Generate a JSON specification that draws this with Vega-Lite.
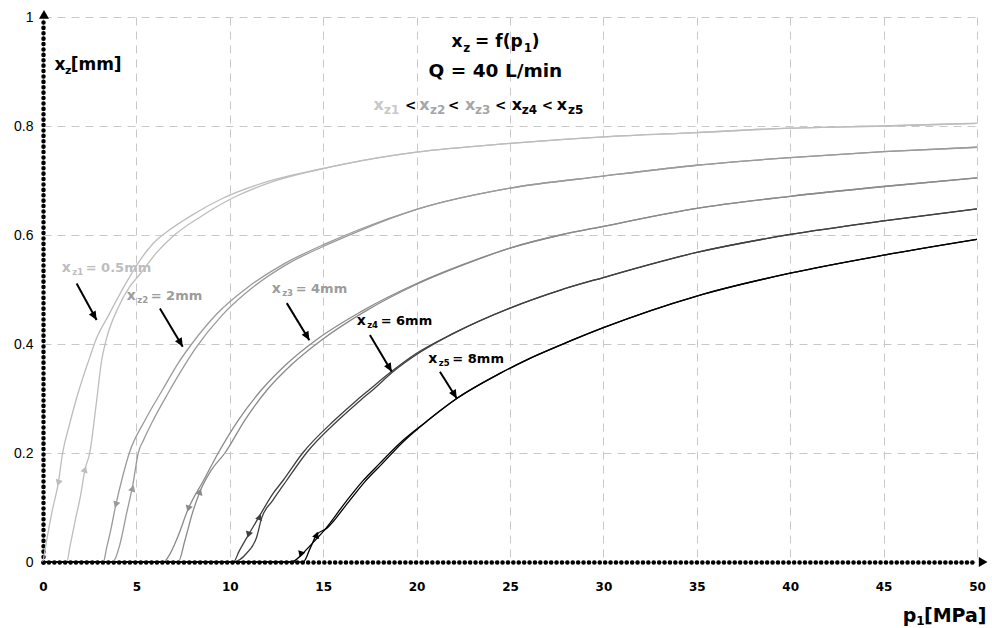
{
  "$schema": "https://vega.github.io/schema/vega-lite/v6.json",
  "width": 934,
  "height": 545,
  "autosize": {"type": "none"},
  "padding": {"left": 43, "top": 17, "right": 15, "bottom": 66},
  "background": "white",
  "config": {
    "view": {"stroke": null},
    "axis": {
      "grid": true,
      "gridColor": "#c8c8c8",
      "gridDash": [8, 6],
      "gridWidth": 1,
      "domainColor": "#000000",
      "domainWidth": 4.5,
      "domainDash": [0.1, 5.3],
      "domainCap": "round",
      "ticks": false,
      "tickSize": 0,
      "labelColor": "#000000",
      "labelFlush": false,
      "title": null
    },
    "axisX": {"labelFont": "DejaVu Sans", "labelFontWeight": "bold", "labelFontSize": 12, "labelPadding": 19, "tickCount": 10},
    "axisY": {"labelFont": "Liberation Sans", "labelFontSize": 14, "labelPadding": 10, "tickCount": 5, "format": "~g"}
  },
  "datasets": {
    "curves": [
      {"c":"xz1","b":"A","p":0,"v":0},{"c":"xz1","b":"A","p":0.25,"v":0.05},{"c":"xz1","b":"A","p":0.5,"v":0.095},{"c":"xz1","b":"A","p":0.82,"v":0.145},{"c":"xz1","b":"A","p":1.05,"v":0.2},{"c":"xz1","b":"A","p":1.4,"v":0.25},{"c":"xz1","b":"A","p":1.75,"v":0.295},{"c":"xz1","b":"A","p":2.2,"v":0.345},{"c":"xz1","b":"A","p":2.5,"v":0.375},{"c":"xz1","b":"A","p":2.8,"v":0.405},{"c":"xz1","b":"A","p":3.5,"v":0.452},{"c":"xz1","b":"A","p":4.48,"v":0.514},{"c":"xz1","b":"A","p":5.2,"v":0.554},{"c":"xz1","b":"A","p":6.0,"v":0.588},{"c":"xz1","b":"A","p":6.6,"v":0.605},{"c":"xz1","b":"A","p":8,"v":0.637},{"c":"xz1","b":"A","p":9.6,"v":0.667},{"c":"xz1","b":"A","p":12,"v":0.698},{"c":"xz1","b":"A","p":15,"v":0.722},{"c":"xz1","b":"A","p":17,"v":0.736},{"c":"xz1","b":"A","p":20,"v":0.752},{"c":"xz1","b":"A","p":25,"v":0.768},{"c":"xz1","b":"A","p":30,"v":0.78},{"c":"xz1","b":"A","p":35,"v":0.788},{"c":"xz1","b":"A","p":40,"v":0.796},{"c":"xz1","b":"A","p":45,"v":0.8},{"c":"xz1","b":"A","p":50,"v":0.805},
      {"c":"xz1","b":"B","p":0,"v":0},{"c":"xz1","b":"B","p":1.27,"v":0},{"c":"xz1","b":"B","p":1.45,"v":0.03},{"c":"xz1","b":"B","p":1.75,"v":0.08},{"c":"xz1","b":"B","p":2.0,"v":0.12},{"c":"xz1","b":"B","p":2.25,"v":0.17},{"c":"xz1","b":"B","p":2.5,"v":0.2},{"c":"xz1","b":"B","p":2.85,"v":0.29},{"c":"xz1","b":"B","p":3.14,"v":0.37},{"c":"xz1","b":"B","p":3.4,"v":0.41},{"c":"xz1","b":"B","p":4.0,"v":0.465},{"c":"xz1","b":"B","p":4.66,"v":0.506},{"c":"xz1","b":"B","p":5.19,"v":0.528},{"c":"xz1","b":"B","p":6.09,"v":0.568},{"c":"xz1","b":"B","p":6.9,"v":0.596},{"c":"xz1","b":"B","p":8.5,"v":0.635},{"c":"xz1","b":"B","p":10.1,"v":0.667},{"c":"xz1","b":"B","p":12.3,"v":0.698},{"c":"xz1","b":"B","p":15,"v":0.722},{"c":"xz1","b":"B","p":17,"v":0.736},{"c":"xz1","b":"B","p":20,"v":0.752},{"c":"xz1","b":"B","p":25,"v":0.768},{"c":"xz1","b":"B","p":30,"v":0.78},{"c":"xz1","b":"B","p":35,"v":0.788},{"c":"xz1","b":"B","p":40,"v":0.796},{"c":"xz1","b":"B","p":45,"v":0.8},{"c":"xz1","b":"B","p":50,"v":0.805},
      {"c":"xz2","b":"A","p":0,"v":0},{"c":"xz2","b":"A","p":3.23,"v":0},{"c":"xz2","b":"A","p":3.4,"v":0.025},{"c":"xz2","b":"A","p":3.59,"v":0.053},{"c":"xz2","b":"A","p":3.9,"v":0.105},{"c":"xz2","b":"A","p":4.25,"v":0.155},{"c":"xz2","b":"A","p":4.62,"v":0.2},{"c":"xz2","b":"A","p":5.46,"v":0.26},{"c":"xz2","b":"A","p":6.4,"v":0.316},{"c":"xz2","b":"A","p":7.24,"v":0.365},{"c":"xz2","b":"A","p":7.96,"v":0.4},{"c":"xz2","b":"A","p":9.3,"v":0.455},{"c":"xz2","b":"A","p":11,"v":0.505},{"c":"xz2","b":"A","p":12.95,"v":0.548},{"c":"xz2","b":"A","p":15.2,"v":0.585},{"c":"xz2","b":"A","p":17,"v":0.611},{"c":"xz2","b":"A","p":20,"v":0.647},{"c":"xz2","b":"A","p":25,"v":0.686},{"c":"xz2","b":"A","p":30,"v":0.708},{"c":"xz2","b":"A","p":35,"v":0.728},{"c":"xz2","b":"A","p":40,"v":0.742},{"c":"xz2","b":"A","p":45,"v":0.753},{"c":"xz2","b":"A","p":50,"v":0.761},
      {"c":"xz2","b":"B","p":0,"v":0},{"c":"xz2","b":"B","p":3.68,"v":0},{"c":"xz2","b":"B","p":3.85,"v":0.005},{"c":"xz2","b":"B","p":4.1,"v":0.03},{"c":"xz2","b":"B","p":4.48,"v":0.09},{"c":"xz2","b":"B","p":4.8,"v":0.14},{"c":"xz2","b":"B","p":5.1,"v":0.2},{"c":"xz2","b":"B","p":5.4,"v":0.225},{"c":"xz2","b":"B","p":5.82,"v":0.255},{"c":"xz2","b":"B","p":6.7,"v":0.31},{"c":"xz2","b":"B","p":7.6,"v":0.362},{"c":"xz2","b":"B","p":8.23,"v":0.395},{"c":"xz2","b":"B","p":9.57,"v":0.452},{"c":"xz2","b":"B","p":11.2,"v":0.503},{"c":"xz2","b":"B","p":13.1,"v":0.547},{"c":"xz2","b":"B","p":15.4,"v":0.585},{"c":"xz2","b":"B","p":17.1,"v":0.61},{"c":"xz2","b":"B","p":20,"v":0.647},{"c":"xz2","b":"B","p":25,"v":0.686},{"c":"xz2","b":"B","p":30,"v":0.708},{"c":"xz2","b":"B","p":35,"v":0.728},{"c":"xz2","b":"B","p":40,"v":0.742},{"c":"xz2","b":"B","p":45,"v":0.753},{"c":"xz2","b":"B","p":50,"v":0.761},
      {"c":"xz3","b":"A","p":0,"v":0},{"c":"xz3","b":"A","p":6.44,"v":0},{"c":"xz3","b":"A","p":6.8,"v":0.015},{"c":"xz3","b":"A","p":7.2,"v":0.045},{"c":"xz3","b":"A","p":7.78,"v":0.098},{"c":"xz3","b":"A","p":8.6,"v":0.15},{"c":"xz3","b":"A","p":9.38,"v":0.2},{"c":"xz3","b":"A","p":10.45,"v":0.26},{"c":"xz3","b":"A","p":11.7,"v":0.316},{"c":"xz3","b":"A","p":13,"v":0.362},{"c":"xz3","b":"A","p":14.6,"v":0.407},{"c":"xz3","b":"A","p":17,"v":0.459},{"c":"xz3","b":"A","p":20,"v":0.511},{"c":"xz3","b":"A","p":22.5,"v":0.546},{"c":"xz3","b":"A","p":25,"v":0.576},{"c":"xz3","b":"A","p":27.7,"v":0.6},{"c":"xz3","b":"A","p":30,"v":0.616},{"c":"xz3","b":"A","p":35,"v":0.649},{"c":"xz3","b":"A","p":40,"v":0.671},{"c":"xz3","b":"A","p":45,"v":0.689},{"c":"xz3","b":"A","p":50,"v":0.705},
      {"c":"xz3","b":"B","p":0,"v":0},{"c":"xz3","b":"B","p":7.24,"v":0},{"c":"xz3","b":"B","p":7.6,"v":0.04},{"c":"xz3","b":"B","p":8.0,"v":0.09},{"c":"xz3","b":"B","p":8.4,"v":0.129},{"c":"xz3","b":"B","p":9.0,"v":0.168},{"c":"xz3","b":"B","p":9.74,"v":0.2},{"c":"xz3","b":"B","p":10.8,"v":0.26},{"c":"xz3","b":"B","p":12.0,"v":0.316},{"c":"xz3","b":"B","p":13.3,"v":0.362},{"c":"xz3","b":"B","p":14.9,"v":0.407},{"c":"xz3","b":"B","p":17.2,"v":0.459},{"c":"xz3","b":"B","p":20.1,"v":0.511},{"c":"xz3","b":"B","p":22.5,"v":0.545},{"c":"xz3","b":"B","p":25,"v":0.576},{"c":"xz3","b":"B","p":27.7,"v":0.6},{"c":"xz3","b":"B","p":30,"v":0.616},{"c":"xz3","b":"B","p":35,"v":0.649},{"c":"xz3","b":"B","p":40,"v":0.671},{"c":"xz3","b":"B","p":45,"v":0.689},{"c":"xz3","b":"B","p":50,"v":0.705},
      {"c":"xz4","b":"A","p":0,"v":0},{"c":"xz4","b":"A","p":10.19,"v":0},{"c":"xz4","b":"A","p":10.5,"v":0.02},{"c":"xz4","b":"A","p":11.0,"v":0.05},{"c":"xz4","b":"A","p":11.6,"v":0.085},{"c":"xz4","b":"A","p":12.3,"v":0.125},{"c":"xz4","b":"A","p":12.86,"v":0.15},{"c":"xz4","b":"A","p":13.9,"v":0.2},{"c":"xz4","b":"A","p":15.6,"v":0.26},{"c":"xz4","b":"A","p":16.8,"v":0.297},{"c":"xz4","b":"A","p":17.5,"v":0.317},{"c":"xz4","b":"A","p":18.6,"v":0.348},{"c":"xz4","b":"A","p":20,"v":0.383},{"c":"xz4","b":"A","p":22,"v":0.42},{"c":"xz4","b":"A","p":25,"v":0.466},{"c":"xz4","b":"A","p":27.7,"v":0.499},{"c":"xz4","b":"A","p":30,"v":0.522},{"c":"xz4","b":"A","p":35,"v":0.568},{"c":"xz4","b":"A","p":40,"v":0.601},{"c":"xz4","b":"A","p":45,"v":0.626},{"c":"xz4","b":"A","p":50,"v":0.648},
      {"c":"xz4","b":"B","p":0,"v":0},{"c":"xz4","b":"B","p":10.19,"v":0},{"c":"xz4","b":"B","p":10.9,"v":0.016},{"c":"xz4","b":"B","p":11.44,"v":0.046},{"c":"xz4","b":"B","p":11.7,"v":0.08},{"c":"xz4","b":"B","p":12.3,"v":0.113},{"c":"xz4","b":"B","p":13.05,"v":0.15},{"c":"xz4","b":"B","p":14.1,"v":0.2},{"c":"xz4","b":"B","p":15.8,"v":0.26},{"c":"xz4","b":"B","p":17.0,"v":0.297},{"c":"xz4","b":"B","p":17.7,"v":0.317},{"c":"xz4","b":"B","p":18.7,"v":0.348},{"c":"xz4","b":"B","p":20.1,"v":0.383},{"c":"xz4","b":"B","p":22,"v":0.42},{"c":"xz4","b":"B","p":25,"v":0.466},{"c":"xz4","b":"B","p":27.7,"v":0.499},{"c":"xz4","b":"B","p":30,"v":0.522},{"c":"xz4","b":"B","p":35,"v":0.568},{"c":"xz4","b":"B","p":40,"v":0.601},{"c":"xz4","b":"B","p":45,"v":0.626},{"c":"xz4","b":"B","p":50,"v":0.648},
      {"c":"xz5","b":"A","p":0,"v":0},{"c":"xz5","b":"A","p":13.2,"v":0},{"c":"xz5","b":"A","p":13.5,"v":0.003},{"c":"xz5","b":"A","p":13.8,"v":0.012},{"c":"xz5","b":"A","p":14.3,"v":0.03},{"c":"xz5","b":"A","p":15.1,"v":0.06},{"c":"xz5","b":"A","p":16.2,"v":0.11},{"c":"xz5","b":"A","p":17.1,"v":0.148},{"c":"xz5","b":"A","p":18,"v":0.18},{"c":"xz5","b":"A","p":19.1,"v":0.218},{"c":"xz5","b":"A","p":20.5,"v":0.257},{"c":"xz5","b":"A","p":22.15,"v":0.3},{"c":"xz5","b":"A","p":24.46,"v":0.346},{"c":"xz5","b":"A","p":25.9,"v":0.371},{"c":"xz5","b":"A","p":27.7,"v":0.398},{"c":"xz5","b":"A","p":30,"v":0.43},{"c":"xz5","b":"A","p":35,"v":0.488},{"c":"xz5","b":"A","p":40,"v":0.53},{"c":"xz5","b":"A","p":45,"v":0.563},{"c":"xz5","b":"A","p":50,"v":0.592},
      {"c":"xz5","b":"B","p":0,"v":0},{"c":"xz5","b":"B","p":13.93,"v":0},{"c":"xz5","b":"B","p":14.3,"v":0.025},{"c":"xz5","b":"B","p":14.65,"v":0.05},{"c":"xz5","b":"B","p":15.2,"v":0.062},{"c":"xz5","b":"B","p":16.35,"v":0.11},{"c":"xz5","b":"B","p":17.25,"v":0.148},{"c":"xz5","b":"B","p":18.15,"v":0.18},{"c":"xz5","b":"B","p":19.2,"v":0.218},{"c":"xz5","b":"B","p":20.5,"v":0.257},{"c":"xz5","b":"B","p":22.15,"v":0.3},{"c":"xz5","b":"B","p":24.46,"v":0.346},{"c":"xz5","b":"B","p":25.9,"v":0.371},{"c":"xz5","b":"B","p":27.7,"v":0.398},{"c":"xz5","b":"B","p":30,"v":0.43},{"c":"xz5","b":"B","p":35,"v":0.488},{"c":"xz5","b":"B","p":40,"v":0.53},{"c":"xz5","b":"B","p":45,"v":0.563},{"c":"xz5","b":"B","p":50,"v":0.592}
    ],
    "dirs": [
      {"c":"xz1","d":"down","p":0.82,"v":0.145},{"c":"xz2","d":"down","p":3.9,"v":0.105},{"c":"xz3","d":"down","p":7.78,"v":0.098},{"c":"xz4","d":"down","p":11.0,"v":0.05},{"c":"xz5","d":"down","p":13.8,"v":0.014},
      {"c":"xz1","d":"up","p":2.25,"v":0.17},{"c":"xz2","d":"up","p":4.8,"v":0.135},{"c":"xz3","d":"up","p":8.4,"v":0.129},{"c":"xz4","d":"up","p":11.6,"v":0.083},{"c":"xz5","d":"up","p":14.65,"v":0.05},
      {"c":"k","d":"axup","p":0.0,"v":0.99},
      {"c":"k","d":"axright","p":49.9,"v":0.0}
    ],
    "ptrs": [
      {"p":1.8,"v":0.511,"p2":2.87,"v2":0.444},
      {"p":6.26,"v":0.465,"p2":7.48,"v2":0.395},
      {"p":13.05,"v":0.475,"p2":14.26,"v2":0.407},
      {"p":17.5,"v":0.4165,"p2":18.67,"v2":0.349},
      {"p":21.25,"v":0.349,"p2":22.15,"v2":0.3}
    ],
    "labels": [
      {"c":"g1","p":1.0,"v":0.5327,"sub":"z1","rest":"= 0.5mm"},
      {"c":"g2","p":4.48,"v":0.4807,"sub":"z2","rest":"= 2mm"},
      {"c":"g2","p":12.24,"v":0.493,"sub":"z3","rest":"= 4mm"},
      {"c":"k","p":16.79,"v":0.435,"sub":"z4","rest":"= 6mm"},
      {"c":"k","p":20.63,"v":0.366,"sub":"z5","rest":"= 8mm"}
    ],
    "texts": [
      {"k":"t1","t":"x","p":21.87,"v":0.945,"c":"k"},
      {"k":"t1","t":"= f(p","p":23.13,"v":0.945,"c":"k"},
      {"k":"t1","t":")","p":26.17,"v":0.945,"c":"k"},
      {"k":"ts","t":"z","p":22.5,"v":0.936,"c":"k"},
      {"k":"ts","t":"1","p":25.74,"v":0.936,"c":"k"},
      {"k":"t2","t":"Q = 40 L/min","p":24.22,"v":0.8905,"c":"k"},
      {"k":"t3","t":"x","p":17.69,"v":0.8294,"c":"g3"},
      {"k":"t3s","t":"z1","p":18.25,"v":0.822,"c":"g3"},
      {"k":"lt","t":"<","p":19.38,"v":0.8294,"c":"k"},
      {"k":"t3","t":"x","p":20.14,"v":0.8294,"c":"g4"},
      {"k":"t3s","t":"z2","p":20.72,"v":0.822,"c":"g4"},
      {"k":"lt","t":"<","p":21.68,"v":0.8294,"c":"k"},
      {"k":"t3","t":"x","p":22.59,"v":0.8294,"c":"g4"},
      {"k":"t3s","t":"z3","p":23.13,"v":0.822,"c":"g4"},
      {"k":"lt","t":"<","p":24.2,"v":0.8294,"c":"k"},
      {"k":"t3","t":"x","p":25.09,"v":0.8294,"c":"k"},
      {"k":"t3s","t":"z4","p":25.63,"v":0.822,"c":"k"},
      {"k":"lt","t":"<","p":26.7,"v":0.8294,"c":"k"},
      {"k":"t3","t":"x","p":27.5,"v":0.8294,"c":"k"},
      {"k":"t3s","t":"z5","p":28.1,"v":0.822,"c":"k"},
      {"k":"ay","t":"x","p":0.62,"v":0.9028,"c":"k"},
      {"k":"ay","t":"[mm]","p":1.48,"v":0.9028,"c":"k"},
      {"k":"ays","t":"z","p":1.18,"v":0.8954,"c":"k"},
      {"k":"ax","t":"p","p":46.03,"v":-0.11,"c":"k"},
      {"k":"ax","t":"[MPa]","p":47.16,"v":-0.11,"c":"k"},
      {"k":"axs","t":"1","p":46.75,"v":-0.1156,"c":"k"}
    ]
  },
  "layer": [
    {
      "data": {"name": "curves"},
      "mark": {"type": "line", "strokeWidth": 1.3, "interpolate": "monotone"},
      "encoding": {
        "x": {"field": "p", "type": "quantitative", "title": null, "scale": {"domain": [0, 50], "nice": false, "zero": false}},
        "y": {"field": "v", "type": "quantitative", "title": null, "scale": {"domain": [0, 1], "nice": false}},
        "color": {"field": "c", "type": "nominal", "legend": null,
                  "scale": {"domain": ["xz1","xz2","xz3","xz4","xz5","k","g1","g2","g3","g4"], "range": ["#bdbdbd","#9a9a9a","#8a8a8a","#404040","#000000","#000000","#bdbdbd","#9c9c9c","#c8c8c8","#a6a6a6"]}},
        "detail": {"field": "b"}
      }
    },
    {
      "data": {"name": "dirs"},
      "transform": [{"filter": "datum.d === 'down'"}],
      "mark": {"type": "point", "shape": "triangle-down", "filled": true, "opacity": 1, "size": 55, "angle": 18},
      "encoding": {
        "x": {"field": "p", "type": "quantitative", "title": null},
        "y": {"field": "v", "type": "quantitative", "title": null},
        "color": {"field": "c", "type": "nominal", "legend": null}
      }
    },
    {
      "data": {"name": "dirs"},
      "transform": [{"filter": "datum.d === 'up'"}],
      "mark": {"type": "point", "shape": "triangle-up", "filled": true, "opacity": 1, "size": 55, "angle": 18},
      "encoding": {
        "x": {"field": "p", "type": "quantitative", "title": null},
        "y": {"field": "v", "type": "quantitative", "title": null},
        "color": {"field": "c", "type": "nominal", "legend": null}
      }
    },
    {
      "data": {"name": "dirs"},
      "transform": [{"filter": "datum.d === 'axup'"}],
      "mark": {"type": "point", "shape": "triangle-up", "filled": true, "opacity": 1, "size": 100, "yOffset": -8, "xOffset": 1},
      "encoding": {
        "x": {"field": "p", "type": "quantitative", "title": null},
        "y": {"field": "v", "type": "quantitative", "title": null},
        "color": {"field": "c", "type": "nominal", "legend": null}
      }
    },
    {
      "data": {"name": "dirs"},
      "transform": [{"filter": "datum.d === 'axright'"}],
      "mark": {"type": "point", "shape": "triangle-right", "filled": true, "opacity": 1, "size": 100, "xOffset": 8},
      "encoding": {
        "x": {"field": "p", "type": "quantitative", "title": null},
        "y": {"field": "v", "type": "quantitative", "title": null},
        "color": {"field": "c", "type": "nominal", "legend": null}
      }
    },
    {
      "data": {"name": "ptrs"},
      "mark": {"type": "rule", "color": "#000000", "strokeWidth": 2},
      "encoding": {
        "x": {"field": "p", "type": "quantitative", "title": null},
        "y": {"field": "v", "type": "quantitative", "title": null},
        "x2": {"field": "p2"},
        "y2": {"field": "v2"}
      }
    },
    {
      "data": {"name": "ptrs"},
      "mark": {"type": "point", "shape": "M0,0L-0.45,-1L0.45,-1Z", "filled": true, "opacity": 1, "color": "#000000", "size": 300, "angle": 330},
      "encoding": {
        "x": {"field": "p2", "type": "quantitative", "title": null},
        "y": {"field": "v2", "type": "quantitative", "title": null}
      }
    },
    {
      "data": {"name": "labels"},
      "mark": {"type": "text", "font": "DejaVu Sans", "fontWeight": "bold", "fontSize": 14, "align": "left", "baseline": "alphabetic", "text": "x"},
      "encoding": {
        "x": {"field": "p", "type": "quantitative", "title": null},
        "y": {"field": "v", "type": "quantitative", "title": null},
        "color": {"field": "c", "type": "nominal", "legend": null}
      }
    },
    {
      "data": {"name": "labels"},
      "mark": {"type": "text", "font": "DejaVu Sans", "fontWeight": "bold", "fontSize": 8.5, "align": "left", "baseline": "alphabetic", "dx": 10.5, "dy": 3},
      "encoding": {
        "x": {"field": "p", "type": "quantitative", "title": null},
        "y": {"field": "v", "type": "quantitative", "title": null},
        "text": {"field": "sub"},
        "color": {"field": "c", "type": "nominal", "legend": null}
      }
    },
    {
      "data": {"name": "labels"},
      "mark": {"type": "text", "font": "DejaVu Sans", "fontWeight": "bold", "fontSize": 13, "align": "left", "baseline": "alphabetic", "dx": 24},
      "encoding": {
        "x": {"field": "p", "type": "quantitative", "title": null},
        "y": {"field": "v", "type": "quantitative", "title": null},
        "text": {"field": "rest"},
        "color": {"field": "c", "type": "nominal", "legend": null}
      }
    },
    {
      "data": {"name": "texts"},
      "transform": [{"filter": "datum.k === 't1'"}],
      "mark": {"type": "text", "font": "DejaVu Sans", "fontWeight": "bold", "fontSize": 17, "align": "left", "baseline": "alphabetic"},
      "encoding": {
        "x": {"field": "p", "type": "quantitative", "title": null},
        "y": {"field": "v", "type": "quantitative", "title": null},
        "text": {"field": "t"},
        "color": {"field": "c", "type": "nominal", "legend": null}
      }
    },
    {
      "data": {"name": "texts"},
      "transform": [{"filter": "datum.k === 'ts' || datum.k === 't3s' || datum.k === 'axs'"}],
      "mark": {"type": "text", "font": "DejaVu Sans", "fontWeight": "bold", "fontSize": 12, "align": "left", "baseline": "alphabetic"},
      "encoding": {
        "x": {"field": "p", "type": "quantitative", "title": null},
        "y": {"field": "v", "type": "quantitative", "title": null},
        "text": {"field": "t"},
        "color": {"field": "c", "type": "nominal", "legend": null}
      }
    },
    {
      "data": {"name": "texts"},
      "transform": [{"filter": "datum.k === 't2'"}],
      "mark": {"type": "text", "font": "DejaVu Sans", "fontWeight": "bold", "fontSize": 18.5, "align": "center", "baseline": "alphabetic"},
      "encoding": {
        "x": {"field": "p", "type": "quantitative", "title": null},
        "y": {"field": "v", "type": "quantitative", "title": null},
        "text": {"field": "t"},
        "color": {"field": "c", "type": "nominal", "legend": null}
      }
    },
    {
      "data": {"name": "texts"},
      "transform": [{"filter": "datum.k === 't3'"}],
      "mark": {"type": "text", "font": "DejaVu Sans", "fontWeight": "bold", "fontSize": 16, "align": "left", "baseline": "alphabetic"},
      "encoding": {
        "x": {"field": "p", "type": "quantitative", "title": null},
        "y": {"field": "v", "type": "quantitative", "title": null},
        "text": {"field": "t"},
        "color": {"field": "c", "type": "nominal", "legend": null}
      }
    },
    {
      "data": {"name": "texts"},
      "transform": [{"filter": "datum.k === 'lt'"}],
      "mark": {"type": "text", "font": "DejaVu Sans", "fontWeight": "bold", "fontSize": 13.5, "align": "left", "baseline": "alphabetic"},
      "encoding": {
        "x": {"field": "p", "type": "quantitative", "title": null},
        "y": {"field": "v", "type": "quantitative", "title": null},
        "text": {"field": "t"},
        "color": {"field": "c", "type": "nominal", "legend": null}
      }
    },
    {
      "data": {"name": "texts"},
      "transform": [{"filter": "datum.k === 'ay'"}],
      "mark": {"type": "text", "font": "DejaVu Sans", "fontWeight": "bold", "fontSize": 17, "align": "left", "baseline": "alphabetic"},
      "encoding": {
        "x": {"field": "p", "type": "quantitative", "title": null},
        "y": {"field": "v", "type": "quantitative", "title": null},
        "text": {"field": "t"},
        "color": {"field": "c", "type": "nominal", "legend": null}
      }
    },
    {
      "data": {"name": "texts"},
      "transform": [{"filter": "datum.k === 'ays'"}],
      "mark": {"type": "text", "font": "DejaVu Sans", "fontWeight": "bold", "fontSize": 11, "align": "left", "baseline": "alphabetic"},
      "encoding": {
        "x": {"field": "p", "type": "quantitative", "title": null},
        "y": {"field": "v", "type": "quantitative", "title": null},
        "text": {"field": "t"},
        "color": {"field": "c", "type": "nominal", "legend": null}
      }
    },
    {
      "data": {"name": "texts"},
      "transform": [{"filter": "datum.k === 'ax'"}],
      "mark": {"type": "text", "font": "DejaVu Sans", "fontWeight": "bold", "fontSize": 19, "align": "left", "baseline": "alphabetic"},
      "encoding": {
        "x": {"field": "p", "type": "quantitative", "title": null},
        "y": {"field": "v", "type": "quantitative", "title": null},
        "text": {"field": "t"},
        "color": {"field": "c", "type": "nominal", "legend": null}
      }
    }
  ]
}
